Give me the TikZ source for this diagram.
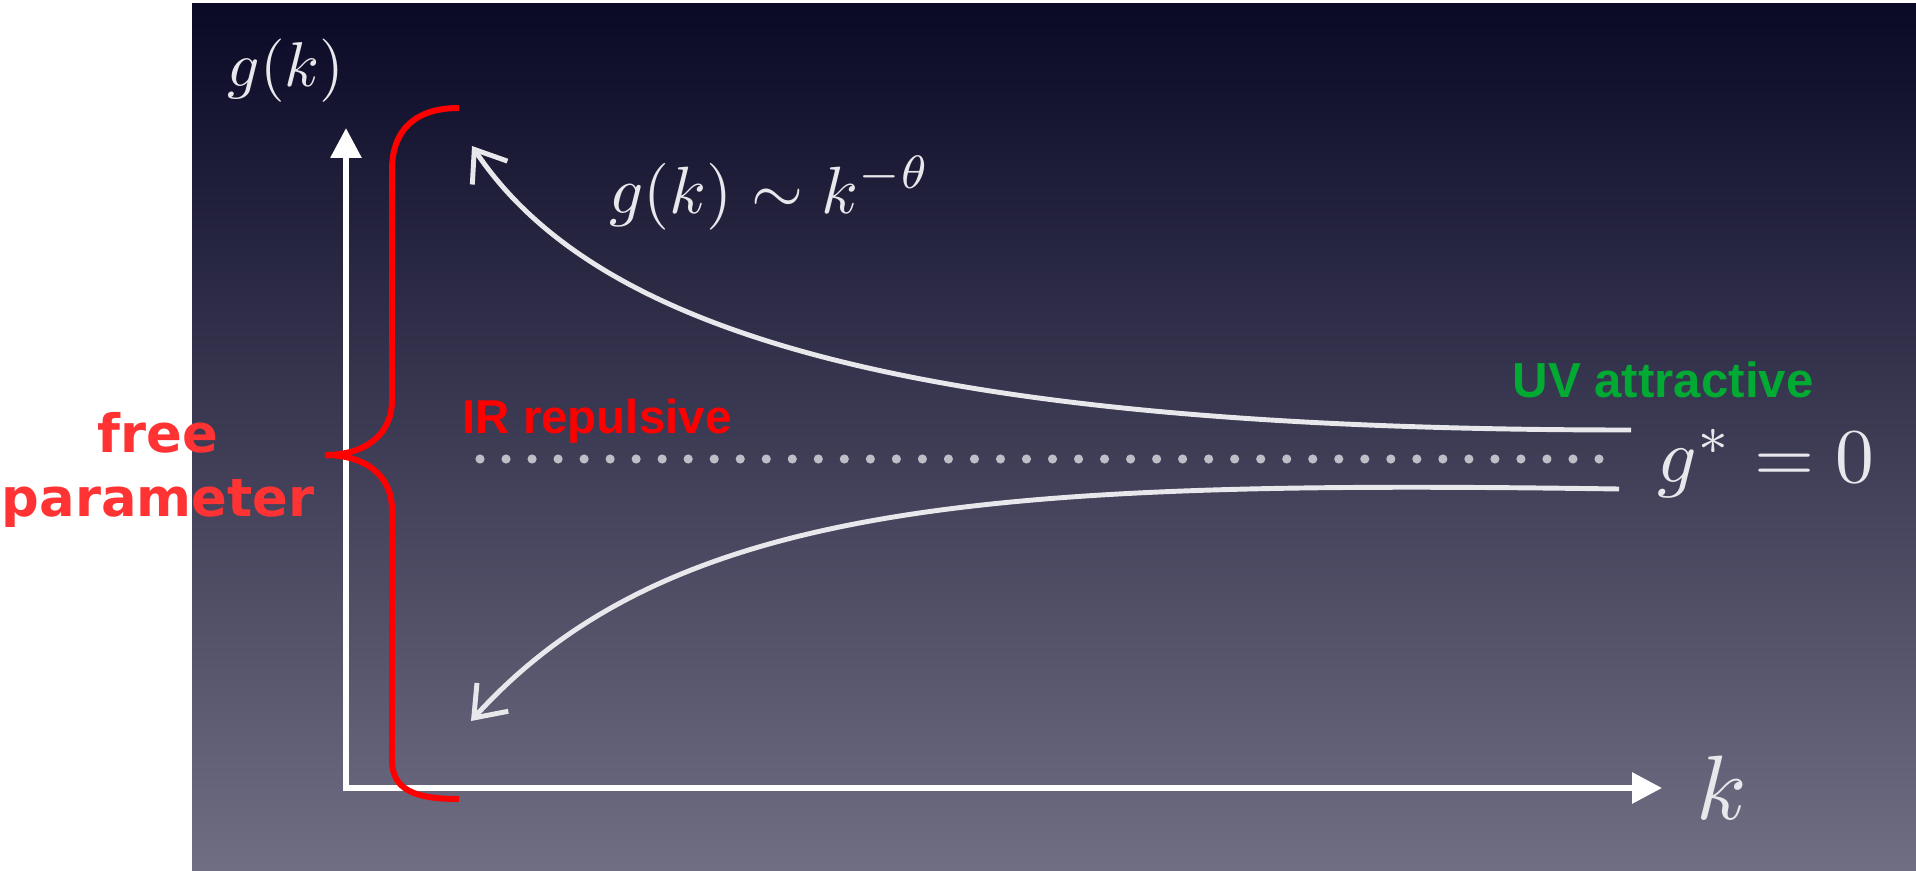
\documentclass[tikz,border=0pt]{standalone}
\usepackage{fontspec}
\newfontfamily\dejavu{DejaVu Sans}
\newfontfamily\libsans{Liberation Sans}
\definecolor{slatetop}{RGB}{10,9,38}
\definecolor{slatebottom}{RGB}{112,110,131}
\definecolor{bracered}{RGB}{255,0,0}
\definecolor{labelred}{RGB}{255,51,51}
\definecolor{uvgreen}{RGB}{0,170,51}
\definecolor{chalk}{RGB}{232,232,236}
\definecolor{dotgray}{RGB}{190,190,198}
\usetikzlibrary{arrows.meta}

\begin{document}
\begin{tikzpicture}[x=0.01cm,y=-0.01cm,
		axis/.style={white,line width=1.7pt,{Triangle[length=8.5pt,width=8.5pt]}-{Triangle[length=8.5pt,width=8.5pt]}},
		flow/.style={chalk,line width=1.4pt,-{Straight Barb[length=8pt,width=12pt]}},
		mathlabel/.style={text=chalk,inner sep=0pt}]
			\useasboundingbox (0,0) rectangle (1916,870);
			\shade[top color=slatetop,bottom color=slatebottom] (192,4) rectangle (1916,870);
			\coordinate (origin) at (346,788);
			\coordinate (gtop) at (346,128);
			\coordinate (kend) at (1662,788);
			\draw[axis] (gtop) -- (origin) -- (kend);
			\node[mathlabel] (glabel) at (286,71) {\scalebox{1.8}{$g(k)$}};
			\node[mathlabel] (klabel) at (1722,788) {\scalebox{2.6}{$k$}};
			\node[mathlabel] (scaling) at (770,193) {\scalebox{1.9}{$g(k)\sim k^{-\theta}$}};
			\node[mathlabel] (fixedpt) at (1766,463) {\scalebox{2.2}{$g^*=0$}};
			\coordinate (dotstart) at (480,459);
			\coordinate (dotend) at (1615,459);
			\draw[dotgray,line width=2.6pt,line cap=round,dash pattern=on 0pt off 7.4pt] (dotstart) -- (dotend);
			\coordinate (upstart) at (1631,430);
			\coordinate (uptip) at (472,146);
			\draw[flow] (upstart) .. controls (931,430) and (600,338) .. (uptip);
			\coordinate (lowstart) at (1619,489);
			\coordinate (lowtip) at (471,721);
			\draw[flow] (lowstart) .. controls (1000,480) and (672,499) .. (lowtip);
			\coordinate (bracetop) at (459,108);
			\coordinate (bracetip) at (325,455);
			\coordinate (bracebottom) at (459,799);
			\draw[bracered,line width=1.7pt] (bracetop) .. controls (415,108) and (392,130) .. (392,170) -- (392,400) .. controls (392,435) and (365,455) .. (bracetip) .. controls (365,455) and (392,475) .. (392,510) -- (392,760) .. controls (392,790) and (415,799) .. (bracebottom);
			\node[text=labelred,inner sep=0pt,font=\dejavu\bfseries\fontsize{15}{18.2}\selectfont,align=center] (freepar) at (158,470) {free\\parameter};
			\node[text=bracered,inner sep=0pt,font=\libsans\bfseries\fontsize{13.5}{16}\selectfont] (irlabel) at (597,421) {IR repulsive};
			\node[text=uvgreen,inner sep=0pt,font=\libsans\bfseries\fontsize{14}{16}\selectfont] (uvlabel) at (1663,380) {UV attractive};
		\end{tikzpicture}
\end{document}
